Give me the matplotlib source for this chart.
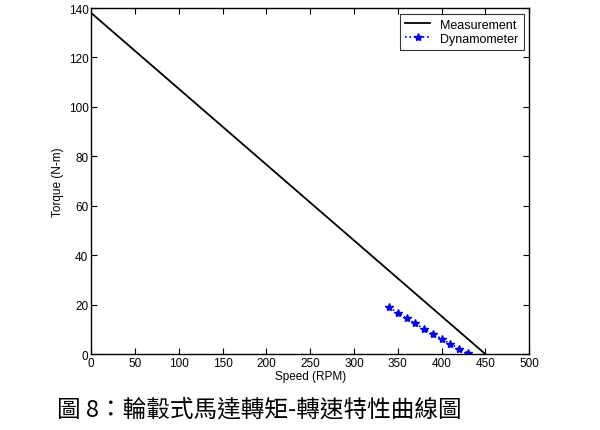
import matplotlib
matplotlib.use("Agg")
import matplotlib.pyplot as plt

# measured torque-speed line (endpoints)
meas_speed = [0, 450]
meas_torque = [138, 0]

# dynamometer readings
dyn_speed = [340, 350, 360, 370, 380, 390, 400, 410, 420, 430]
dyn_torque = [18.9, 16.8, 14.5, 12.4, 10.2, 8.2, 6.2, 4.2, 2.2, 0.5]

xticks = list(range(0, 501, 50))
yticks = list(range(0, 141, 20))

plt.rcParams['font.family'] = ['Liberation Sans', 'DejaVu Sans']

fig = plt.figure(figsize=(6.0, 4.31), dpi=100)
ax = fig.add_axes([0.152, 0.176, 0.730, 0.803])

ax.plot(meas_speed, meas_torque, color='black', lw=1.3, label='Measurement')
ax.plot(dyn_speed, dyn_torque, color='#0000ee', ls=':', lw=1.2,
        marker='*', ms=6, label='Dynamometer')

ax.set_xlim(0, 500)
ax.set_ylim(0, 140)
ax.set_xticks(xticks)
ax.set_yticks(yticks)
ax.tick_params(direction='in', top=True, right=True, labelsize=8.5, length=4, pad=2)
for s in ax.spines.values():
    s.set_linewidth(1.0)

ax.set_xlabel('Speed (RPM)', fontsize=8.5, labelpad=1)
ax.set_ylabel('Torque (N-m)', fontsize=8.5, labelpad=3)

leg = ax.legend(loc='upper right', fontsize=9, frameon=True, fancybox=False,
                edgecolor='black', borderpad=0.4, handlelength=2.0,
                handletextpad=0.8, labelspacing=0.15, borderaxespad=0.45)
leg.get_frame().set_linewidth(0.8)

fig.text(0.433, 0.048, '圖 8：輪轂式馬達轉矩-轉速特性曲線圖', ha='center', va='center',
         fontsize=17, family=['Noto Sans CJK TC', 'DejaVu Sans'])

fig.savefig('out.png', dpi=100)
